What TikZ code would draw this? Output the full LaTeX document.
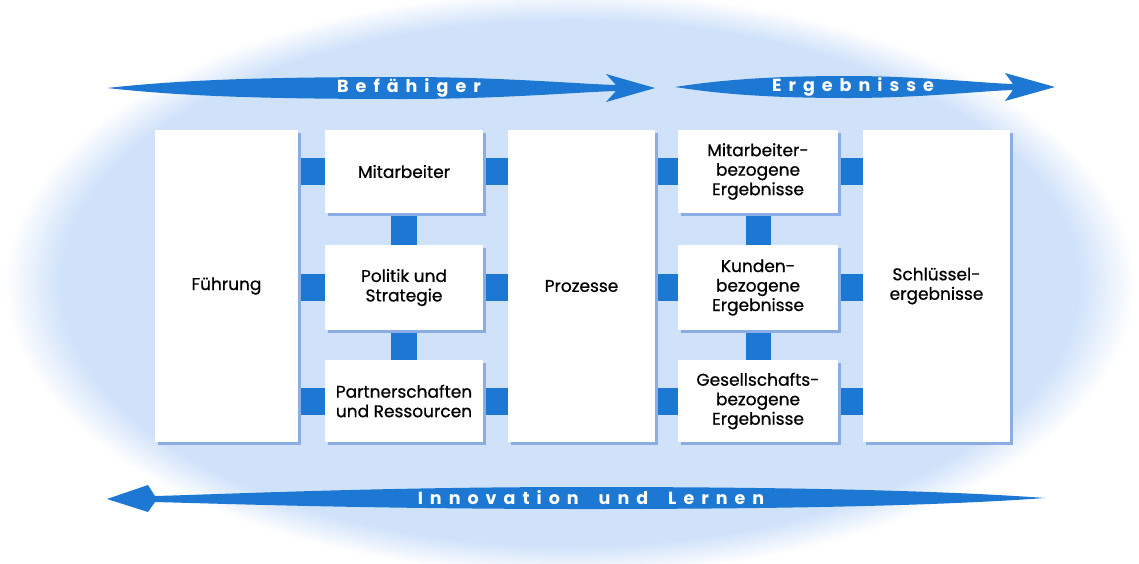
\documentclass[tikz,border=0pt]{standalone}
\usepackage{fontspec}
\setmainfont{Poppins}
\newfontfamily\kastenfont{Poppins}[FakeBold=0.7]
\newfontfamily\pfeilfont{Poppins Bold}[LetterSpace=40]
\usetikzlibrary{shadows,backgrounds}
\definecolor{hgblau}{RGB}{208,226,250}
\definecolor{kblau}{RGB}{28,120,210}
\definecolor{schatten}{RGB}{140,172,228}
\pgfdeclareradialshading{hof}{\pgfpoint{0bp}{0bp}}{color(0bp)=(hgblau);color(22.5bp)=(hgblau);color(25bp)=(white);color(50bp)=(white)}

\begin{document}
\begin{tikzpicture}[x=1pt,y=-1pt,line join=round,
	kasten/.style={fill=white,drop shadow={shadow xshift=3pt,shadow yshift=-3pt,fill=schatten,opacity=1},align=center,inner sep=2pt,font=\kastenfont\fontsize{17}{19.5}\selectfont,text=black},
	steg/.style={draw=kblau,line width=27pt},
	pfeiltext/.style={text=white,inner sep=0pt,font=\pfeilfont\fontsize{17.5}{17.5}\selectfont}]
	\def\wsp{\hspace{20pt}}
	\useasboundingbox (0,0) rectangle (1139,563);
	\begin{scope}[on background layer]
		\shade[shading=hof] (570,283) ellipse [x radius=565,y radius=292];
	\end{scope}
	\node[kasten,minimum width=143pt,minimum height=312pt] (fuehrung) at (226.5,286) {Führung};
	\node[kasten,minimum width=158pt,minimum height=83pt] (mitarb) at (404,171.5) {Mitarbeiter};
	\node[kasten,minimum width=158pt,minimum height=85pt] (politik) at (404,287.5) {Politik und\\Strategie};
	\node[kasten,minimum width=158pt,minimum height=82pt] (partner) at (404,401) {Partnerschaften\\und Ressourcen};
	\node[kasten,minimum width=147pt,minimum height=312pt] (prozesse) at (581.5,286) {Prozesse};
	\node[kasten,minimum width=160pt,minimum height=83pt] (mbe) at (758,171.5) {Mitarbeiter-\\bezogene\\Ergebnisse};
	\node[kasten,minimum width=160pt,minimum height=85pt] (kbe) at (758,287.5) {Kunden-\\bezogene\\Ergebnisse};
	\node[kasten,minimum width=160pt,minimum height=82pt] (gbe) at (758,401) {Gesellschafts-\\bezogene\\Ergebnisse};
	\node[kasten,minimum width=147pt,minimum height=312pt] (schluessel) at (936.5,286) {Schlüssel-\\ergebnisse};
	\begin{scope}[on background layer]
		\foreach \k in {mitarb,politik,partner}{
			\draw[steg] (fuehrung.east |- \k.west) -- (\k.west);
			\draw[steg] (\k.east) -- (prozesse.west |- \k.east);
		}
		\foreach \k in {mbe,kbe,gbe}{
			\draw[steg] (prozesse.east |- \k.west) -- (\k.west);
			\draw[steg] (\k.east) -- (schluessel.west |- \k.east);
		}
		\draw[steg,line width=26pt] (mitarb.south) -- (politik.north);
		\draw[steg,line width=26pt] (politik.south) -- (partner.north);
		\draw[steg,line width=25pt] (mbe.south) -- (kbe.north);
		\draw[steg,line width=25pt] (kbe.south) -- (gbe.north);
	\end{scope}
	\fill[kblau] (107,88) .. controls (180,80) and (260,77) .. (405,77)
		.. controls (500,77) and (580,84) .. (616,85) -- (606,74) -- (655,88) -- (606,102) -- (616,91)
		.. controls (580,92) and (500,99) .. (405,99) .. controls (260,99) and (180,96) .. (107,88) -- cycle;
	\fill[kblau] (675,87) .. controls (720,80) and (770,76) .. (848,76)
		.. controls (920,76) and (980,83) .. (1013,84) -- (1005,73) -- (1055,87) -- (1005,101) -- (1013,90)
		.. controls (980,91) and (920,98) .. (848,98) .. controls (770,98) and (720,94) .. (675,87) -- cycle;
	\fill[kblau] (1045,498) .. controls (950,491) and (800,487) .. (586,487)
		.. controls (380,487) and (230,494) .. (155,496) -- (148,485) -- (107,499) -- (148,512) -- (155,502)
		.. controls (230,504) and (380,509) .. (586,509) .. controls (800,509) and (950,505) .. (1045,498) -- cycle;
	\node[pfeiltext] (befaehiger) at (409,88) {Befähiger};
	\node[pfeiltext] (ergebnisse) at (853,87) {Ergebnisse};
	\node[pfeiltext] (innovation) at (591,498) {Innovation\wsp und\wsp Lernen};
\end{tikzpicture}
\end{document}
